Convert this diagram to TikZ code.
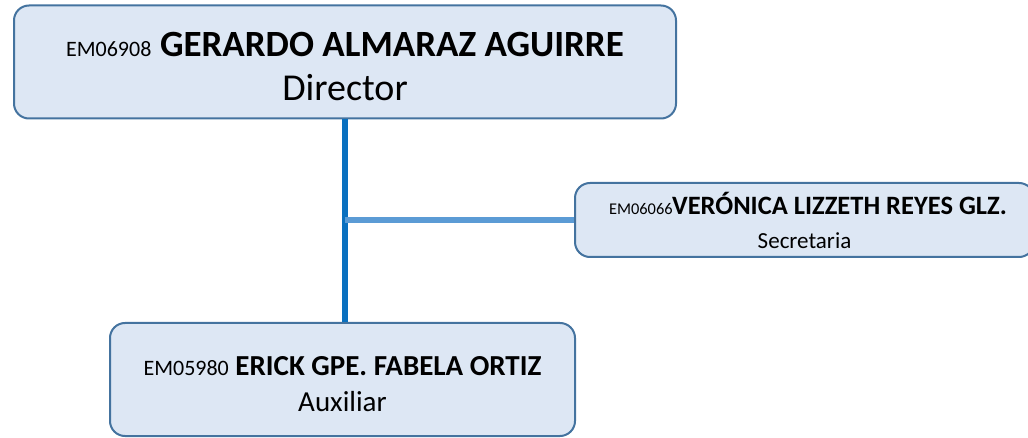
\documentclass[tikz,border=0pt]{standalone}
\usepackage{fontspec}
\setmainfont{Carlito}
\usetikzlibrary{positioning}

\definecolor{boxfill}{HTML}{DDE7F4}
\definecolor{boxline}{HTML}{44739F}
\definecolor{mainline}{HTML}{0A70BF}
\definecolor{sideline}{HTML}{5B9BD5}

\newcommand{\emp}[3]{\mbox{{\fontsize{#1}{#1}\selectfont #2}\ #3}}

\begin{document}
\begin{tikzpicture}[
    x=1pt, y=-1pt,
    post/.style={draw=boxline, fill=boxfill, line width=2pt, rounded corners=15pt,
      inner sep=0pt, align=center},
    trunk/.style={draw=mainline, line width=6pt},
    branch/.style={draw=sideline, line width=6pt}
  ]
  \useasboundingbox (0,0) rectangle (1028,438);

  \node[post, minimum width=662pt, minimum height=113pt,
    font=\fontsize{38}{44}\selectfont] (dir) at (345,62)
    {\rule{0pt}{34pt}\emp{22}{EM06908}{\textbf{\fontsize{37}{44}\selectfont GERARDO ALMARAZ AGUIRRE}}\\Director};
  \node[post, minimum width=459pt, minimum height=74pt,
    font=\fontsize{23}{34}\selectfont] (sec) at (804.5,220)
    {\hspace{0.3em}\emp{16.4}{EM06066}{\hspace{-0.25em}\textbf{\fontsize{26.5}{34}\selectfont VERÓNICA LIZZETH REYES GLZ.}}\\Secretaria};
  \node[post, minimum width=465pt, minimum height=113pt,
    font=\fontsize{29}{36}\selectfont] (aux) at (342.5,379.5)
    {\rule{0pt}{29pt}\emp{22}{EM05980}{\textbf{ERICK GPE. FABELA ORTIZ}}\\Auxiliar};

  % Director down to Auxiliar
  \draw[trunk] (dir.south) -- (dir.south |- aux.north);
  % Secretaria off the trunk
  \draw[branch] (sec.west) -- (sec.west -| dir.south);
\end{tikzpicture}
\end{document}
